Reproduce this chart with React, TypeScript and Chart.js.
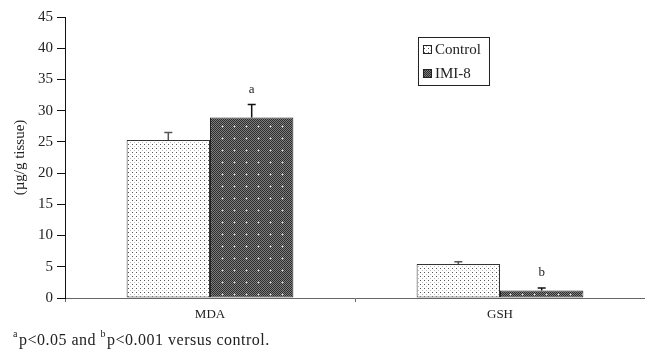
import React, { useEffect, useRef } from "react";
import { Chart, registerables } from "chart.js";

Chart.register(...registerables);

const categories = ["MDA", "GSH"];
const seriesNames = ["Control", "IMI-8"];
const controlValues = [25.3, 5.45];
const imiValues = [28.9, 1.2];
const controlErrors = [1.2, 0.35];
const imiErrors = [2.1, 0.4];
const sigLabels = [["", ""], ["a", "b"]];
const yTicks = [0, 5, 10, 15, 20, 25, 30, 35, 40, 45];

const SERIF = "'Liberation Serif', 'Times New Roman', serif";

function makeDotPattern(ctx: CanvasRenderingContext2D) {
  const c = document.createElement("canvas");
  c.width = 4;
  c.height = 4;
  const g = c.getContext("2d")!;
  g.fillStyle = "#ffffff";
  g.fillRect(0, 0, 4, 4);
  g.fillStyle = "#555555";
  g.fillRect(0, 0, 1, 1);
  g.fillStyle = "#bbbbbb";
  g.fillRect(2, 2, 1, 1);
  return ctx.createPattern(c, "repeat")!;
}

function makeCrossPattern(ctx: CanvasRenderingContext2D) {
  const s = 12;
  const c = document.createElement("canvas");
  c.width = s;
  c.height = s;
  const g = c.getContext("2d")!;
  for (let y = 0; y < s; y++) {
    for (let x = 0; x < s; x++) {
      g.fillStyle = (x + y) % 2 === 0 ? "#2e2e2e" : "#7c7c7c";
      g.fillRect(x, y, 1, 1);
    }
  }
  g.fillStyle = "#a8a8a8";
  [[6, 5], [5, 6], [7, 6], [6, 7]].forEach(([x, y]) => g.fillRect(x, y, 1, 1));
  g.fillStyle = "#e8e8e8";
  g.fillRect(6, 6, 1, 1);
  return ctx.createPattern(c, "repeat")!;
}

export default function App() {
  const ref = useRef<HTMLCanvasElement | null>(null);

  useEffect(() => {
    const canvas = ref.current!;
    const ctx = canvas.getContext("2d")!;
    const dots = makeDotPattern(ctx);
    const cross = makeCrossPattern(ctx);
    const fills = [dots, cross];
    const errors = [controlErrors, imiErrors];

    const errorBarPlugin = {
      id: "errorBars",
      afterDatasetsDraw(chart: any) {
        const c = chart.ctx;
        const ys = chart.scales.y;
        chart.data.datasets.forEach((ds: any, i: number) => {
          const meta = chart.getDatasetMeta(i);
          meta.data.forEach((bar: any, j: number) => {
            const v = ds.data[j];
            const top = ys.getPixelForValue(v + errors[i][j]);
            c.save();
            c.strokeStyle = i === 0 ? "#555" : "#111";
            c.lineWidth = 1.5;
            c.beginPath();
            c.moveTo(bar.x, bar.y);
            c.lineTo(bar.x, top);
            c.moveTo(bar.x - 4, top);
            c.lineTo(bar.x + 4, top);
            c.stroke();
            const lab = sigLabels[i][j];
            if (lab) {
              c.fillStyle = "#222";
              c.font = `13px ${SERIF}`;
              c.textAlign = "center";
              c.textBaseline = "middle";
              c.fillText(lab, bar.x, top - 15);
            }
            c.restore();
          });
        });
      },
    };

    const legendPlugin = {
      id: "boxLegend",
      afterDraw(chart: any) {
        const c = chart.ctx;
        const a = chart.chartArea;
        const x0 = a.left + (a.right - a.left) * 0.6086;
        const y0 = a.top + 20;
        const w = 71;
        const h = 48;
        c.save();
        c.fillStyle = "#fff";
        c.fillRect(x0, y0, w, h);
        c.strokeStyle = "#222";
        c.lineWidth = 1;
        c.strokeRect(x0 + 0.5, y0 + 0.5, w, h);
        c.font = `15px ${SERIF}`;
        c.textBaseline = "middle";
        c.textAlign = "left";
        seriesNames.forEach((name, i) => {
          const cy = y0 + 12 + i * 24;
          c.fillStyle = fills[i];
          c.fillRect(x0 + 5, cy - 4, 9, 9);
          c.strokeStyle = "#222";
          c.strokeRect(x0 + 5.5, cy - 3.5, 8, 8);
          c.fillStyle = "#222";
          c.fillText(name, x0 + 17, cy + 1);
        });
        c.restore();
      },
    };

    const chart = new Chart(ctx, {
      type: "bar",
      data: {
        labels: categories,
        datasets: [
          {
            label: seriesNames[0],
            data: controlValues,
            backgroundColor: dots,
            borderColor: "#333",
            borderWidth: 1,
            borderSkipped: false,
            categoryPercentage: 0.575,
            barPercentage: 1,
          },
          {
            label: seriesNames[1],
            data: imiValues,
            backgroundColor: cross,
            borderColor: "#222",
            borderWidth: 1,
            borderSkipped: false,
            categoryPercentage: 0.575,
            barPercentage: 1,
          },
        ],
      },
      options: {
        animation: false,
        responsive: false,
        devicePixelRatio: 1,
        layout: { padding: { top: 17, left: 0, right: 0, bottom: 0 } },
        plugins: {
          legend: { display: false },
          tooltip: { enabled: false },
        },
        scales: {
          x: {
            offset: true,
            grid: {
              offset: true,
              drawOnChartArea: false,
              drawTicks: true,
              tickLength: 4,
              color: "#666",
            },
            border: { display: true, color: "#666", width: 1 },
            ticks: {
              color: "#222",
              font: { family: SERIF, size: 13 },
              padding: 5,
            },
            afterFit(s: any) {
              s.height = 55;
            },
          },
          y: {
            min: 0,
            max: 45,
            afterBuildTicks(s: any) {
              s.ticks = yTicks.map((v) => ({ value: v }));
            },
            grid: {
              drawOnChartArea: false,
              drawTicks: true,
              tickLength: 8,
              color: "#111",
            },
            border: { display: true, color: "#111", width: 1 },
            ticks: {
              color: "#222",
              font: { family: SERIF, size: 15 },
              padding: 4,
            },
            title: {
              display: true,
              text: "(µg/g tissue)",
              color: "#222",
              font: { family: SERIF, size: 15 },
              padding: { top: 11, bottom: 0 },
            },
            afterFit(s: any) {
              s.width = 65;
            },
          },
        },
      },
      plugins: [errorBarPlugin, legendPlugin],
    });
    return () => chart.destroy();
  }, []);

  return (
    <div style={{ position: "fixed", left: 0, top: 0, width: 645, height: 353, background: "#fff" }}>
      <canvas ref={ref} width={645} height={353} style={{ display: "block" }} />
      <div
        style={{
          position: "absolute",
          left: 13,
          top: 330,
          fontFamily: SERIF,
          fontSize: 16,
          letterSpacing: "0.5px",
          color: "#222",
          lineHeight: "20px",
          whiteSpace: "nowrap",
        }}
      >
        <span style={{ fontSize: 10, position: "relative", top: -8, marginRight: 1 }}>a</span>p&lt;0.05 and <span style={{ fontSize: 10, position: "relative", top: -8, marginRight: 1 }}>b</span>p&lt;0.001 versus control.
      </div>
    </div>
  );
}
